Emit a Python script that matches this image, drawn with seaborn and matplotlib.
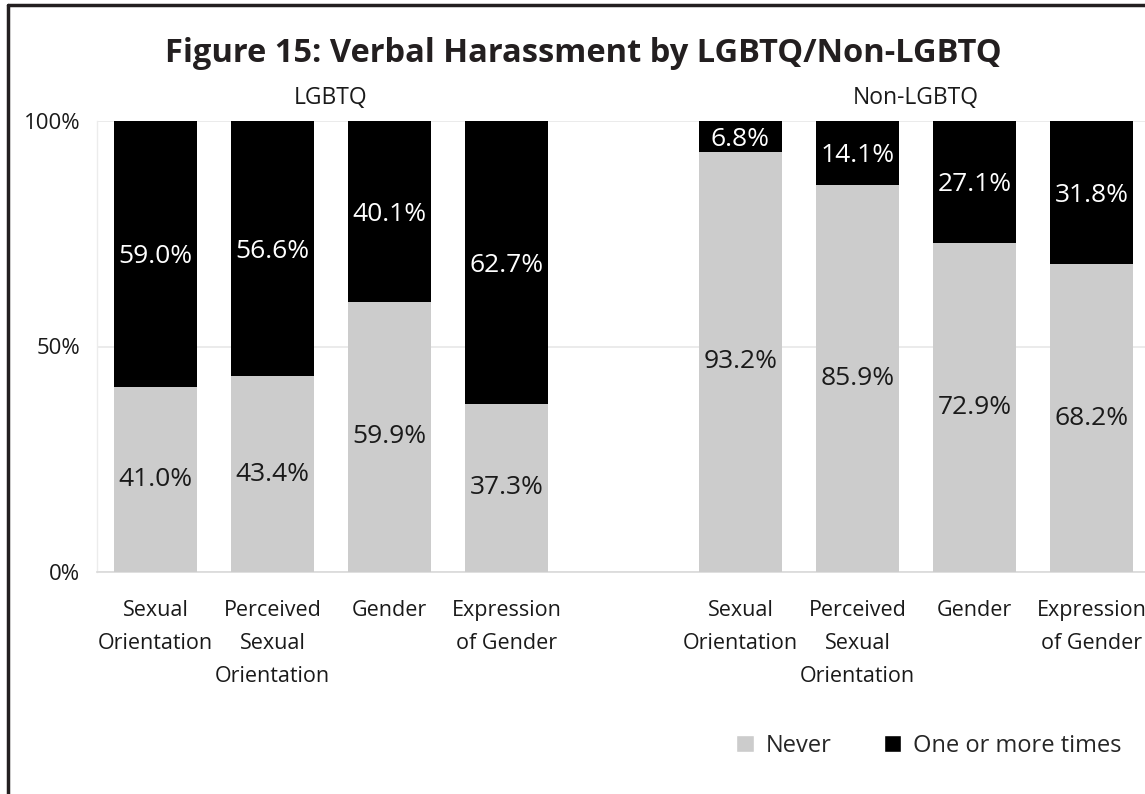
import matplotlib
matplotlib.use("Agg")
import matplotlib.pyplot as plt
import matplotlib.patches as mpatches
import matplotlib.lines as mlines
import pandas as pd
import seaborn as sns

# Values
GROUPS = ["LGBTQ", "LGBTQ", "LGBTQ", "LGBTQ",
          "Non-LGBTQ", "Non-LGBTQ", "Non-LGBTQ", "Non-LGBTQ"]
CATEGORIES = ["Sexual\nOrientation", "Perceived\nSexual\nOrientation", "Gender", "Expression\nof Gender",
              "Sexual\nOrientation", "Perceived\nSexual\nOrientation", "Gender", "Expression\nof Gender"]
NEVER = [41.0, 43.4, 59.9, 37.3, 93.2, 85.9, 72.9, 68.2]
ONE_OR_MORE = [59.0, 56.6, 40.1, 62.7, 6.8, 14.1, 27.1, 31.8]

GRAY = "#cccccc"
BLACK = "#000000"
LIGHT = "#d9d9d9"
TXT = "#1a1a1a"

sns.set_style("white")
plt.rcParams["font.family"] = ["Open Sans", "DejaVu Sans"]

df = pd.DataFrame({
    "group": GROUPS,
    "category": CATEGORIES,
    "never": NEVER,
    "once": ONE_OR_MORE,
})
df["slot"] = df["group"] + "|" + df["category"]
df["total"] = df["never"] + df["once"]

# empty slot between the two groups
order = list(df["slot"][:4]) + ["gap"] + list(df["slot"][4:])

fig = plt.figure(figsize=(11.45, 7.94), dpi=100)
ax = fig.add_axes([97 / 1145, 1 - 572 / 794, 1053 / 1145, 451 / 794])

sns.barplot(data=df, x="slot", y="total", order=order, color=BLACK,
            width=0.71, saturation=1, linewidth=0, ax=ax, zorder=2)
sns.barplot(data=df, x="slot", y="never", order=order, color=GRAY,
            width=0.71, saturation=1, linewidth=0, ax=ax, zorder=3)

# data labels, centred in each segment
for _, row in df.iterrows():
    xpos = order.index(row["slot"])
    ax.text(xpos, row["never"] / 2, f"{row['never']:.1f}%", ha="center", va="center",
            fontsize=19, color=TXT, zorder=4)
    ax.text(xpos, row["never"] + row["once"] / 2 - 0.6, f"{row['once']:.1f}%", ha="center",
            va="center", fontsize=19, color="white", zorder=4)

ax.set_xlim(-0.5, len(order) - 0.5)
ax.set_ylim(0, 100)
ax.set_yticks([0, 50, 100])
ax.set_yticklabels(["0%", "50%", "100%"], fontsize=16, color=TXT)
ax.yaxis.grid(True, color="#e8e8e8", linewidth=1.2, zorder=0)
ax.set_axisbelow(True)

# boundary ticks (major) and labels at bar centres (minor)
ax.set_xticks([i - 0.5 for i in range(len(order) + 1)])
ax.set_xticklabels([])
centers = [order.index(s) for s in df["slot"]]
ax.set_xticks(centers, minor=True)
ax.set_xticklabels(df["category"], minor=True, fontsize=15.5, color=TXT,
                   linespacing=1.75, va="top")
ax.tick_params(axis="x", which="major", length=5, color=LIGHT, width=1.2, direction="out")
ax.tick_params(axis="x", which="minor", length=0, pad=20)
ax.tick_params(axis="y", length=5, color=LIGHT, width=1.2, pad=7)
ax.set_xlabel("")
ax.set_ylabel("")

for side in ["top", "right"]:
    ax.spines[side].set_visible(False)
ax.spines["bottom"].set_color(LIGHT)
ax.spines["bottom"].set_linewidth(1.2)
ax.spines["left"].set_color("#ececec")
ax.spines["left"].set_linewidth(1.0)

# group headers
ax.text(1.5, 102.5, "LGBTQ", ha="center", va="bottom", fontsize=16.5, color=TXT)
ax.text(6.5, 102.5, "Non-LGBTQ", ha="center", va="bottom", fontsize=16.5, color=TXT)

fig.text(0.5 + (583 - 572.5) / 1145, 1 - 54 / 794,
         "Figure 15: Verbal Harassment by LGBTQ/Non-LGBTQ",
         ha="center", va="center", fontsize=23.5, fontweight="bold", color="#231f20")

handles = [
    mpatches.Patch(facecolor=GRAY, label="Never"),
    mpatches.Patch(facecolor=BLACK, label="One or more times"),
]
fig.legend(handles=handles, loc="center right", bbox_to_anchor=(1143 / 1145, 1 - 746 / 794),
           ncol=2, frameon=False, fontsize=17, handlelength=0.75, handleheight=0.75,
           handletextpad=0.5, columnspacing=2.2)

# figure border (left and top only)
fig.add_artist(mlines.Line2D([8 / 1145, 8 / 1145], [0, 1 - 5 / 794], color="#231f20", linewidth=2.5))
fig.add_artist(mlines.Line2D([8 / 1145, 1], [1 - 5 / 794, 1 - 5 / 794], color="#231f20", linewidth=2.5))

fig.savefig("out.png", dpi=100)
